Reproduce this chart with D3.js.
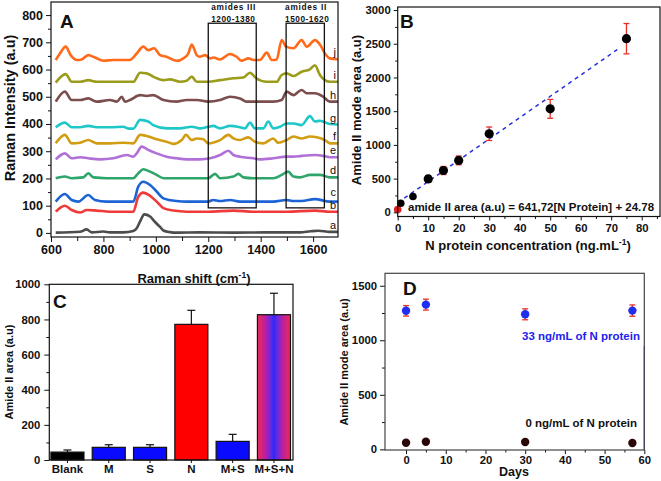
<!DOCTYPE html>
<html><head><meta charset="utf-8">
<script src="https://cdn.jsdelivr.net/npm/d3@7"></script>
<style>
body{margin:0;background:#fff}
svg{display:block}
text{font-family:"Liberation Sans",Arial,sans-serif;font-weight:bold;fill:#111}
</style>
</head><body>
<svg id="c" width="661" height="481"></svg>
<script>
// ---------- Panel A data (Raman spectra, x = cm-1, y = a.u.) ----------
const specA = [[618,1],[711,4],[736,13],[755,2],[800,5],[825,2],[876,2],[914,7],[927,17],[940,42],[956,68],[978,60],[997,40],[1016,22],[1029,9],[1054,3],[1079,1],[1168,2],[1296,1],[1423,2],[1550,2],[1590,6],[1620,8],[1664,4],[1695,4]];
const specB = [[618,78],[653,100],[679,84],[711,75],[736,84],[774,82],[825,78],[914,78],[933,133],[952,148],[978,136],[1003,115],[1029,91],[1067,82],[1118,78],[1200,78],[1296,82],[1372,78],[1448,78],[1499,78],[1607,82],[1664,78],[1695,78]];
const specC = [[618,115],[653,143],[679,121],[704,115],[742,139],[768,121],[812,115],[914,115],[933,170],[952,188],[978,176],[1003,152],[1029,127],[1079,117],[1118,115],[1200,115],[1219,121],[1245,117],[1283,121],[1321,115],[1372,115],[1448,115],[1499,121],[1525,117],[1556,117],[1607,124],[1664,115],[1695,115]];
const specD = [[618,201],[653,207],[679,201],[723,204],[742,219],[762,204],[812,201],[914,201],[933,219],[952,234],[978,225],[1003,213],[1029,201],[1118,201],[1200,201],[1226,217],[1245,201],[1296,207],[1315,217],[1334,204],[1372,201],[1448,201],[1480,213],[1505,225],[1525,207],[1550,204],[1588,213],[1626,213],[1664,204],[1695,204]];
const specE = [[618,270],[653,292],[679,274],[711,278],[742,274],[787,270],[838,274],[889,286],[914,280],[927,292],[946,317],[971,305],[1003,292],[1041,280],[1079,274],[1118,270],[1168,270],[1207,274],[1245,286],[1277,302],[1296,286],[1321,280],[1372,274],[1397,270],[1448,274],[1499,280],[1525,280],[1556,283],[1607,286],[1639,283],[1664,278],[1695,278]];
const specF = [[618,329],[653,360],[679,329],[711,331],[742,341],[774,329],[825,329],[876,331],[914,329],[940,360],[971,354],[1003,344],[1041,335],[1067,327],[1099,341],[1115,360],[1137,341],[1156,347],[1181,344],[1200,329],[1245,341],[1277,360],[1296,347],[1321,341],[1353,351],[1378,335],[1410,329],[1448,347],[1467,331],[1499,341],[1525,354],[1556,347],[1588,354],[1614,351],[1645,341],[1664,329],[1695,329]];
const specG = [[618,388],[653,405],[679,388],[711,388],[742,393],[774,388],[825,388],[876,390],[895,383],[914,383],[940,415],[971,409],[990,396],[1041,384],[1092,384],[1137,390],[1168,384],[1200,390],[1219,393],[1245,384],[1283,393],[1321,388],[1340,384],[1359,405],[1378,384],[1410,384],[1429,409],[1448,384],[1474,390],[1499,402],[1525,402],[1556,396],[1588,429],[1607,409],[1626,412],[1664,400],[1695,398]];
const specH = [[618,482],[653,519],[679,488],[711,488],[742,494],[774,482],[825,488],[851,482],[870,500],[882,482],[901,488],[940,506],[965,503],[990,506],[1029,488],[1079,482],[1118,488],[1156,488],[1200,482],[1245,488],[1283,500],[1321,494],[1346,482],[1397,482],[1448,482],[1480,488],[1499,519],[1525,506],[1556,525],[1576,513],[1607,513],[1639,500],[1664,482],[1695,482]];
const specI = [[618,552],[656,583],[679,555],[711,555],[742,561],[774,555],[825,555],[914,555],[940,588],[965,586],[990,574],[1029,561],[1054,564],[1092,555],[1118,559],[1137,574],[1156,555],[1200,555],[1245,561],[1296,568],[1334,571],[1359,588],[1383,568],[1423,555],[1461,555],[1480,580],[1499,586],[1525,576],[1556,592],[1588,601],[1607,616],[1626,580],[1645,561],[1664,555],[1695,555]];
const specJ = [[618,635],[634,659],[656,684],[675,653],[698,635],[717,637],[742,653],[768,644],[800,632],[838,635],[901,635],[927,659],[952,684],[971,671],[993,678],[1016,653],[1041,647],[1079,632],[1105,641],[1124,659],[1137,692],[1156,653],[1168,647],[1188,653],[1207,641],[1219,644],[1245,637],[1283,657],[1308,647],[1327,632],[1353,641],[1372,635],[1397,635],[1423,662],[1442,635],[1461,637],[1480,708],[1497,684],[1525,678],[1556,708],[1576,684],[1607,708],[1626,692],[1645,659],[1664,641],[1695,638]];
const spectraLabels = ["a","b","c","d","e","f","g","h","i","j"];
const spectraColors = ["#4d4d4d","#f03a3a","#1c63d6","#2ea56a","#b070d8","#d19d12","#1fc8c8","#7c4e4e","#9c9c1c","#ff6b1a"];
const aYTicks = [0,100,200,300,400,500,600,700,800];
const aXTicks = [600,800,1000,1200,1400,1600];
const amideNames = ["amides III","amides II"];
const amideRanges = ["1200-1380","1500-1620"];
const amideX0 = [1200,1497];
const amideX1 = [1383,1643];
const amideY = [92,770];

// ---------- Panel B data ----------
const bConc = [0,1,5,10,15,20,30,50,75];
const bArea = [40,135,235,495,620,770,1165,1535,2575];
const bErr  = [20,25,25,50,60,65,100,140,225];
const bFitX = [0,72];
const bFitY = [141,2414];
const bYTicks = [0,500,1000,1500,2000,2500,3000];
const bXTicks = [0,10,20,30,40,50,60,70,80];

// ---------- Panel C data ----------
const cCats = ["Blank","M","S","N","M+S","M+S+N"];
const cVals = [45,72,72,772,106,827];
const cErr  = [12,15,15,80,40,122];
const cYTicks = [0,200,400,600,800,1000];

// ---------- Panel D data ----------
const dDays = [0,5,30,57];
const d33 = [1270,1327,1238,1272];
const d33Err = [48,50,50,52];
const d0 = [60,70,67,58];
const d0Err = [8,8,8,8];
const dYTicks = [0,500,1000,1500];
const dXTicks = [0,10,20,30,40,50,60];

const svg = d3.select("#c");
const INK = "#111";
const fmt = d3.format("d");

function styleAxis(g, fs){
  g.select(".domain").remove();
  g.attr("font-family",null).attr("font-size",null);
  g.selectAll("line").attr("stroke",INK).attr("stroke-width",1);
  g.selectAll("text").style("font-size",fs+"px").attr("fill",INK);
}
function frame(x0,x1,y0,y1,color){
  svg.append("rect").attr("x",x0).attr("y",y0).attr("width",x1-x0).attr("height",y1-y0)
    .attr("fill","none").attr("stroke",color||INK).attr("stroke-width",1.2);
}

// ================= Panel A =================
const xA = d3.scaleLinear().domain([600,1695]).range([51,338]);
const yA = d3.scaleLinear().domain([-15,848]).range([237,2]);
const gA = svg.append("g");
const allSpec = [specA,specB,specC,specD,specE,specF,specG,specH,specI,specJ];
const lineA = d3.line().x(d=>xA(d[0])).y(d=>yA(d[1])).curve(d3.curveMonotoneX);
allSpec.forEach((s,i)=>{
  gA.append("path").attr("d",lineA(s)).attr("fill","none")
    .attr("stroke",spectraColors[i]).attr("stroke-width",2.6).attr("stroke-linejoin","round");
});
// amide boxes
amideNames.forEach((n,i)=>{
  gA.append("rect").attr("x",xA(amideX0[i])).attr("y",yA(amideY[1]))
    .attr("width",xA(amideX1[i])-xA(amideX0[i])).attr("height",yA(amideY[0])-yA(amideY[1]))
    .attr("fill","none").attr("stroke",INK).attr("stroke-width",1.3);
  gA.append("text").attr("x",xA(amideX0[i])+(i===0?3:-1)).attr("y",10).style("font-size","8.3px").style("letter-spacing","0.7px").text(n);
  gA.append("text").attr("x",xA(amideX0[i])+(i===0?3:-1)).attr("y",21.5).style("font-size","8.3px").style("letter-spacing","0.5px").text(amideRanges[i]);
});
// series labels (pushed up to avoid collisions)
let prevY = Infinity;
allSpec.forEach((s,i)=>{
  const last = s[s.length-1];
  let y = Math.min(yA(last[1])-3, prevY-12.5);
  prevY = y;
  gA.append("text").attr("x",336).attr("y",y).attr("text-anchor","end")
    .style("font-size","11px").style("font-weight","normal").text(spectraLabels[i]);
});
frame(51,338,2,237);
gA.append("g").attr("transform","translate(51,0)")
  .call(d3.axisLeft(yA).tickValues(aYTicks).tickSize(5).tickPadding(3).tickFormat(fmt)).call(g=>styleAxis(g,12.5));
gA.append("g").attr("transform","translate(51,0)")
  .call(d3.axisLeft(yA).tickValues(d3.range(50,850,100)).tickSize(3).tickFormat("")).call(g=>styleAxis(g,12));
gA.append("g").attr("transform","translate(0,237)")
  .call(d3.axisBottom(xA).tickValues(aXTicks).tickSize(5).tickPadding(3).tickFormat(fmt)).call(g=>styleAxis(g,12.5));
gA.append("g").attr("transform","translate(0,237)")
  .call(d3.axisBottom(xA).tickValues(d3.range(700,1700,200)).tickSize(4).tickFormat("")).call(g=>styleAxis(g,12));
gA.append("text").attr("x",60).attr("y",28).style("font-size","19px").text("A");
const tA = gA.append("text").attr("x",194).attr("y",283).attr("text-anchor","middle").style("font-size","13px");
tA.append("tspan").text("Raman shift (cm");
tA.append("tspan").attr("dy",-5).style("font-size","8.5px").text("-1");
tA.append("tspan").attr("dy",5).text(")");
gA.append("text").attr("transform","translate(15,108) rotate(-90)").attr("text-anchor","middle")
  .style("font-size","14.5px").text("Raman Intensity (a.u)");

// ================= Panel B =================
const xB = d3.scaleLinear().domain([0,86]).range([397.7,660]);
const yB = d3.scaleLinear().domain([-62,3045]).range([216.5,7]);
const gB = svg.append("g");
gB.append("path").attr("d",d3.line()(bFitX.map((x,i)=>[xB(x),yB(bFitY[i])])))
  .attr("stroke","#2432d8").attr("stroke-width",1.5).attr("stroke-dasharray","4,4").attr("fill","none");
bConc.forEach((c,i)=>{
  const x=xB(c), y0=yB(bArea[i]-bErr[i]), y1=yB(bArea[i]+bErr[i]);
  gB.append("line").attr("x1",x).attr("x2",x).attr("y1",y0).attr("y2",y1).attr("stroke","#e8302a").attr("stroke-width",1.3);
  [y0,y1].forEach(y=>gB.append("line").attr("x1",x-3).attr("x2",x+3).attr("y1",y).attr("y2",y).attr("stroke","#e8302a").attr("stroke-width",1.3));
});
gB.selectAll("circle.p").data(bConc).enter().append("circle")
  .attr("cx",d=>xB(d)).attr("cy",(d,i)=>yB(bArea[i])).attr("r",(d,i)=>i<3?3.8:4.6)
  .attr("fill",(d,i)=>i<1?"#e02020":"#000");
frame(397.7,660,7,216.5);
gB.append("g").attr("transform","translate(397.7,0)")
  .call(d3.axisLeft(yB).tickValues(bYTicks).tickSize(4).tickPadding(3).tickFormat(fmt)).call(g=>styleAxis(g,11.3));
gB.append("g").attr("transform","translate(397.7,0)")
  .call(d3.axisLeft(yB).tickValues(d3.range(250,3000,500)).tickSize(2.5).tickFormat("")).call(g=>styleAxis(g,11));
gB.append("g").attr("transform","translate(0,216.5)")
  .call(d3.axisBottom(xB).tickValues(bXTicks).tickSize(4).tickPadding(3).tickFormat(fmt)).call(g=>styleAxis(g,11.3));
gB.append("g").attr("transform","translate(0,216.5)")
  .call(d3.axisBottom(xB).tickValues(d3.range(5,86,10)).tickSize(2.5).tickFormat("")).call(g=>styleAxis(g,11));
gB.append("text").attr("x",400).attr("y",28).style("font-size","19px").text("B");
gB.append("text").attr("x",408).attr("y",210.5).style("font-size",(11.5)+"px").text("amide II area (a.u) = 641,72[N Protein] + 24.78");
const tB = gB.append("text").attr("x",528).attr("y",250).attr("text-anchor","middle").style("font-size","13px");
tB.append("tspan").text("N protein concentration (ng.mL");
tB.append("tspan").attr("dy",-5).style("font-size","8.5px").text("-1");
tB.append("tspan").attr("dy",5).text(")");
gB.append("text").attr("transform","translate(361,110) rotate(-90)").attr("text-anchor","middle")
  .style("font-size","13px").text("Amide II mode area (a.u)");

// ================= Panel C =================
const xC = d3.scaleBand().domain(cCats).range([46.8,294.6]).paddingInner(0.2).paddingOuter(0.1);
const yC = d3.scaleLinear().domain([0,1000]).range([460,284.3]);
const gC = svg.append("g");
const defs = svg.append("defs");
const grad = defs.append("linearGradient").attr("id","mixGrad").attr("x1","0%").attr("x2","100%").attr("y1","0%").attr("y2","0%");
[["0%","#ee2a55"],["22%","#c0209a"],["40%","#6a28e0"],["50%","#2a2aff"],["60%","#6a28e0"],["78%","#c0209a"],["100%","#ee2a55"]]
  .forEach(s=>grad.append("stop").attr("offset",s[0]).attr("stop-color",s[1]));
const cFill = ["#000000","#0a0aff","#0a0aff","#ff0000","#0a0aff","url(#mixGrad)"];
cCats.forEach((c,i)=>{
  const x = xC(c), w = xC.bandwidth(), cx = x+w/2;
  const top = yC(cVals[i]), etop = yC(cVals[i]+cErr[i]);
  gC.append("line").attr("x1",cx).attr("x2",cx).attr("y1",top).attr("y2",etop).attr("stroke",INK).attr("stroke-width",1.2);
  gC.append("line").attr("x1",cx-4).attr("x2",cx+4).attr("y1",etop).attr("y2",etop).attr("stroke",INK).attr("stroke-width",1.2);
  gC.append("rect").attr("x",x).attr("y",top).attr("width",w).attr("height",yC(0)-top)
    .attr("fill",cFill[i]).attr("stroke",INK).attr("stroke-width",1.2);
});
frame(49.3,293,284.3,460);
gC.append("g").attr("transform","translate(49.3,0)")
  .call(d3.axisLeft(yC).tickValues(cYTicks).tickSize(5).tickPadding(4).tickFormat(fmt)).call(g=>styleAxis(g,11.3));
gC.append("g").attr("transform","translate(49.3,0)")
  .call(d3.axisLeft(yC).tickValues(d3.range(100,1000,200)).tickSize(3).tickFormat("")).call(g=>styleAxis(g,11));
gC.append("g").attr("transform","translate(0,460)")
  .call(d3.axisBottom(xC).tickSize(3).tickPadding(2)).call(g=>styleAxis(g,11.5));
gC.append("text").attr("x",53).attr("y",308).style("font-size","19px").text("C");
gC.append("text").attr("transform","translate(13,372) rotate(-90)").attr("text-anchor","middle")
  .style("font-size","11px").text("Amide II area (a.u)");

// ================= Panel D =================
const xD = d3.scaleLinear().domain([-5.3,60]).range([385,644.3]);
const yD = d3.scaleLinear().domain([-6,1614]).range([450,273.3]);
const gD = svg.append("g");
function drawSeries(vals, errs, fill){
  dDays.forEach((d,i)=>{
    const x=xD(d), y0=yD(vals[i]-errs[i]), y1=yD(vals[i]+errs[i]);
    gD.append("line").attr("x1",x).attr("x2",x).attr("y1",y0).attr("y2",y1).attr("stroke","#e8302a").attr("stroke-width",1.3);
    [y0,y1].forEach(y=>gD.append("line").attr("x1",x-3).attr("x2",x+3).attr("y1",y).attr("y2",y).attr("stroke","#e8302a").attr("stroke-width",1.3));
    gD.append("circle").attr("cx",x).attr("cy",yD(vals[i])).attr("r",4.2).attr("fill",fill);
  });
}
drawSeries(d33,d33Err,"#1f2ff0");
drawSeries(d0,d0Err,"#2a0808");
frame(385,644.3,273.3,450,"#444");
gD.append("line").attr("x1",644.3).attr("x2",644.3).attr("y1",yD(1000)+6).attr("y2",450).attr("stroke","#3040ff").attr("stroke-width",1.2);
gD.append("g").attr("transform","translate(385,0)")
  .call(d3.axisLeft(yD).tickValues(dYTicks).tickSize(5).tickPadding(3).tickFormat(fmt)).call(g=>styleAxis(g,11.3));
gD.append("g").attr("transform","translate(385,0)")
  .call(d3.axisLeft(yD).tickValues(d3.range(250,1600,500)).tickSize(3).tickFormat("")).call(g=>styleAxis(g,11));
gD.append("g").attr("transform","translate(0,450)")
  .call(d3.axisBottom(xD).tickValues(dXTicks).tickSize(4).tickPadding(2).tickFormat(fmt)).call(g=>styleAxis(g,11.3));
gD.append("g").attr("transform","translate(0,450)")
  .call(d3.axisBottom(xD).tickValues(d3.range(5,60,10)).tickSize(2.5).tickFormat("")).call(g=>styleAxis(g,11));
gD.append("text").attr("x",403).attr("y",295).style("font-size","19px").text("D");
gD.append("text").attr("x",640).attr("y",340).attr("text-anchor","end").style("font-size","11.5px").style("fill","#2222ee").text("33 ng/mL of N protein");
gD.append("text").attr("x",637).attr("y",426.5).attr("text-anchor","end").style("font-size","11.5px").text("0 ng/mL of N protein");
gD.append("text").attr("x",514).attr("y",476).attr("text-anchor","middle").style("font-size","12.5px").text("Days");
gD.append("text").attr("transform","translate(348,362) rotate(-90)").attr("text-anchor","middle")
  .style("font-size","11px").text("Amide II mode area (a.u)");
</script>
</body></html>
